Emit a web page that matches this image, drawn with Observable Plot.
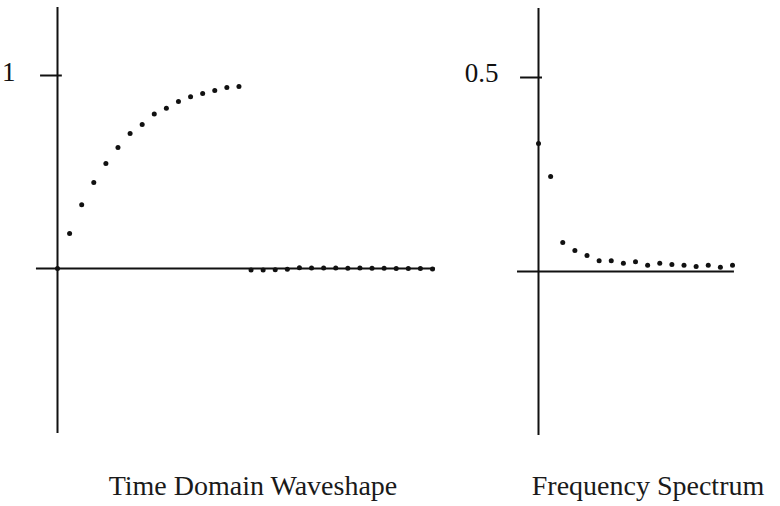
<!DOCTYPE html>
<html>
<head>
<meta charset="utf-8">
<script src="https://cdn.jsdelivr.net/npm/d3@7"></script>
<script src="https://cdn.jsdelivr.net/npm/@observablehq/plot@0.6"></script>
<style>
  body { margin: 0; background: #fff; }
  #wrap { position: relative; width: 780px; height: 506px; overflow: hidden; font-family: "Liberation Serif", "Times New Roman", serif; }
  #left, #right { position: absolute; top: 0; }
  #left { left: 0; }
  #right { left: 470px; }
  .cap { position: absolute; font-size: 28px; color: #1a1a1a; white-space: nowrap; transform: translateX(-50%); line-height: 1; }
</style>
</head>
<body>
<div id="wrap">
  <div id="left"></div>
  <div id="right"></div>
  <div class="cap" id="cap1" style="left:253px; top:472px;"></div>
  <div class="cap" id="cap2" style="left:648px; top:472px;"></div>
</div>
<script>
// ---- Data ----
const timeSamples = [0,1,2,3,4,5,6,7,8,9,10,11,12,13,14,15,16,17,18,19,20,21,22,23,24,25,26,27,28,29,30,31];
const timeValues = [0, 0.181, 0.33, 0.446, 0.544, 0.627, 0.70, 0.746, 0.80, 0.83, 0.865, 0.89, 0.907, 0.922, 0.938, 0.943,
                    -0.008, -0.008, -0.006, -0.004, 0.004, 0.002, 0.002, 0.003, 0.001, 0.002, 0.001, 0.001, 0, 0, 0, -0.002];
const freqBins = [0,1,2,3,4,5,6,7,8,9,10,11,12,13,14,15,16];
const freqValues = [0.33, 0.245, 0.075, 0.054, 0.041, 0.028, 0.028, 0.021, 0.025, 0.016, 0.021, 0.018, 0.016, 0.013, 0.016, 0.011, 0.016];
const leftTicks = [1];
const leftTickLabels = ["1"];
const rightTicks = [0.5];
const rightTickLabels = ["0.5"];
const captions = ["Time Domain Waveshape", "Frequency Spectrum"];

const timeData = timeSamples.map((t, i) => ({t, v: timeValues[i]}));
const freqData = freqBins.map((k, i) => ({k, v: freqValues[i]}));

const ink = "#111";
const font = "'Liberation Serif', 'Times New Roman', serif";

const left = Plot.plot({
  width: 470, height: 450,
  margin: 0,
  style: {fontFamily: font, background: "transparent", overflow: "visible"},
  x: {domain: [0, 31], range: [57, 432], axis: null},
  y: {domain: [0, 1], range: [268, 75], axis: null},
  marks: [
    Plot.ruleX([0], {y1: -0.855, y2: 1.352, stroke: ink, strokeWidth: 2}),
    Plot.ruleY([0], {x1: -1.74, x2: 31.25, stroke: ink, strokeWidth: 2}),
    Plot.ruleY(leftTicks, {y: d => d, x1: -1.4, x2: 0.4, stroke: ink, strokeWidth: 2}),
    Plot.text(leftTicks, {x: 0, y: d => d, text: (d, i) => leftTickLabels[i], dx: -42, dy: -3, textAnchor: "end", fontSize: 27, fill: ink}),
    Plot.dot(timeData, {x: "t", y: "v", r: 2.5, fill: ink, stroke: null})
  ]
});
document.getElementById("left").appendChild(left);

const right = Plot.plot({
  width: 310, height: 450,
  margin: 0,
  style: {fontFamily: font, background: "transparent", overflow: "visible"},
  x: {domain: [0, 16], range: [68, 262], axis: null},
  y: {domain: [0, 0.5], range: [271, 77], axis: null},
  marks: [
    Plot.ruleX([0], {y1: -0.423, y2: 0.678, stroke: ink, strokeWidth: 2}),
    Plot.ruleY([0], {x1: -1.73, x2: 16.16, stroke: ink, strokeWidth: 2}),
    Plot.ruleY(rightTicks, {y: d => d, x1: -1.48, x2: 0.33, stroke: ink, strokeWidth: 2}),
    Plot.text(rightTicks, {x: 0, y: d => d, text: (d, i) => rightTickLabels[i], dx: -40, dy: -4, textAnchor: "end", fontSize: 27, fill: ink}),
    Plot.dot(freqData, {x: "k", y: "v", r: 2.5, fill: ink, stroke: null})
  ]
});
document.getElementById("right").appendChild(right);

document.getElementById("cap1").textContent = captions[0];
document.getElementById("cap2").textContent = captions[1];
</script>
</body>
</html>
